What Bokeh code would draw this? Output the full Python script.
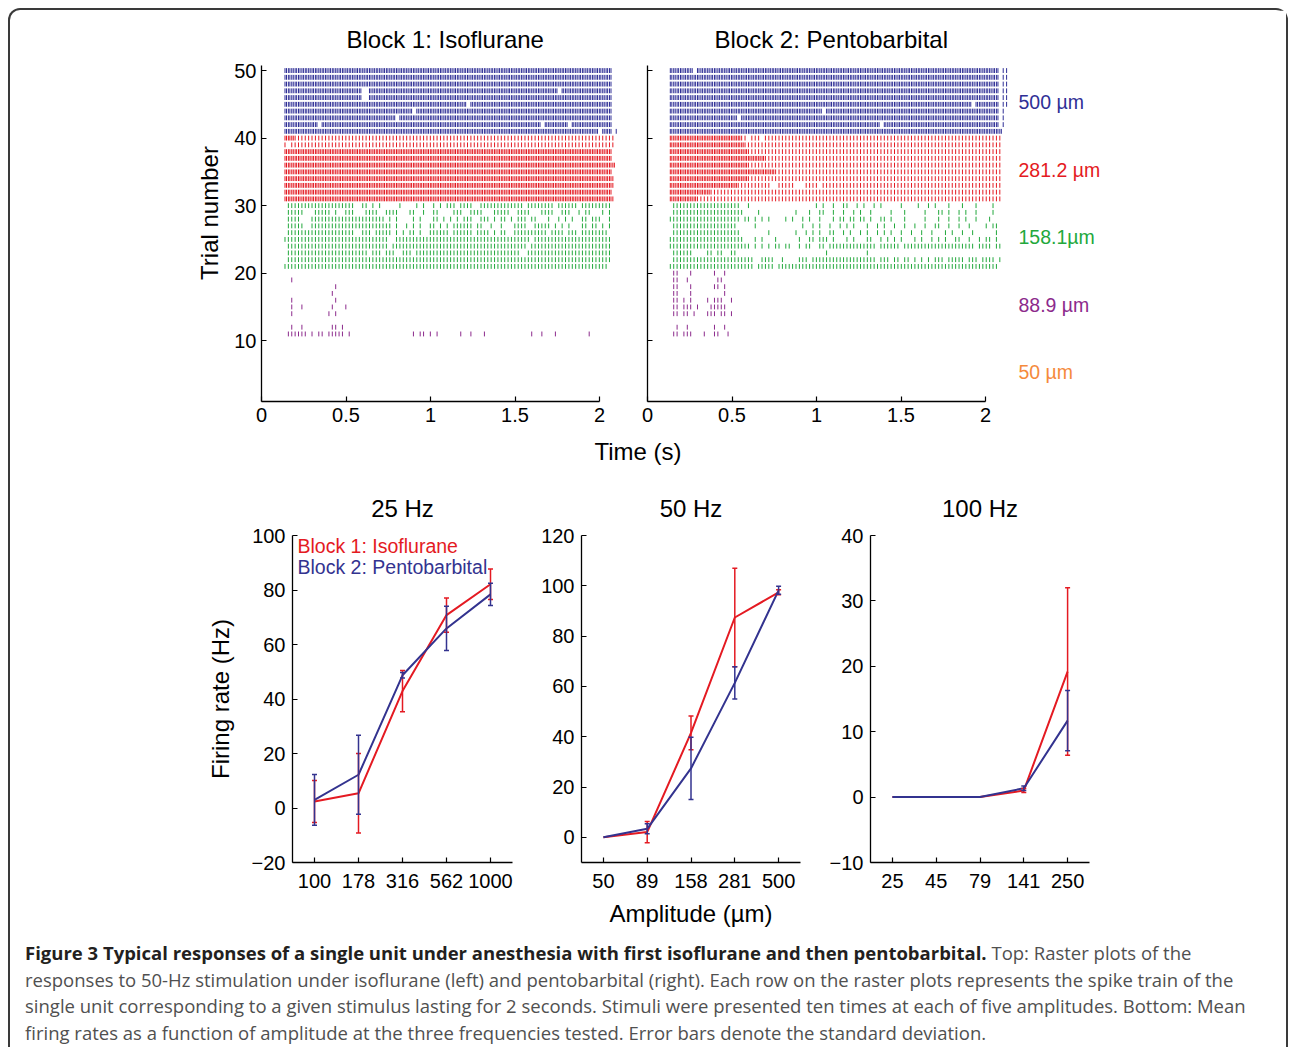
from math import pi
from bokeh.plotting import figure
from bokeh.models import (Range1d, FactorRange, FixedTicker, Label, Whisker, TeeHead,
                          ColumnDataSource, Div, CustomJSTickFormatter)
from bokeh.layouts import row, column
from bokeh.embed import file_html
from bokeh.resources import INLINE

FONT = "Liberation Sans"

# ---------------- raster data (pulse index patterns, 50-Hz pulses) ----------------
# token "a-b" = one spike on each pulse a..b ; suffix ":" = two spikes per pulse
B1_T0, B1_DT = 0.139, 0.0200
B2_T0, B2_DT = 0.135, 0.0201
PAIR_GAP = 0.009

B1_ROWS = {
    50: "0-96:", 49: "0-96:", 48: "0-96:",
    47: "0-22: 25-80: 82-96:", 46: "0-22: 25-96:", 45: "0-53: 55-96:",
    44: "0-37: 39-96:", 43: "0-32: 34-96:", 42: "0-9: 11-75: 77-83: 85-96:",
    41: "0-92: 94-96: 98",
    40: "0-2: 3-97", 39: "0 2-97", 38: "0-96:", 37: "0-96:", 36: "0-97:",
    35: "0-96:", 34: "0-96: 97", 33: "0-96: 97", 32: "0-96:", 31: "0-96: 97",
    30: "1-20 23 24 26 28 34 39 41 44 46 48-50 52-55 58-70 72-79 81-86 88-96",
    29: "1-5 9-13 15 18-20 24-27 30-33 37 38 41 44 45 50-52 55-58 62-66 69-72 76-79 82-84 87 89 90 94 96",
    28: "1-4 8-29 31 33 38 40 44 45 47 49 51 53-55 58-60 62 64 65 67 69-71 73 74 78 81 83 85 88 89 91-93 96",
    27: "1-5 8-31 33 36 38 40 43 44 46 48 50-55 57 58 61 64 68-71 74-78 80 82 84 88 89 91 92 94 96",
    26: "1-20 23-25 27-31 33 35 37 38 40 43-48 50-55 57-60 62 64 65 68-77 79-82 84-86 88-95",
    25: "0-30 33-72 74-96",
    24: "1-30 32-71 73-96",
    23: "1-24 26-28 30-32 35-37 39-69 72-96",
    22: "1-96",
    21: "0-95",
    19: "2", 18: "15", 17: "14", 16: "2 15", 15: "2 5 14 18", 14: "2 13 15",
    12: "2 5 14 15 17",
    11: "1-6 8 10 11 13-17 19 38 40 41 43 45 52 55 59 73 76 80 90",
}

B2_ROWS = {
    50: "0-6: 8-96: 98 99", 49: "0-96: 98 99", 48: "0-96: 98 99", 47: "0-96: 98 99",
    46: "0-96: 98 99", 45: "0-88: 90-96: 98 99", 44: "0-44: 46-96: 98",
    43: "0-19: 21-96: 98", 42: "0-61: 63-96: 98", 41: "0-97:",
    40: "0-20: 21 22 24-26 28-97", 39: "0-21: 22-97", 38: "0-22: 23-97",
    37: "0-27: 28-97", 36: "0-22: 23-97", 35: "0-30: 31-97", 34: "0-22: 23-97",
    33: "0-19: 20-29 32-36 40-43 45-97", 32: "0-11: 12-97", 31: "0-7: 8-97",
    30: "1-20 23 43 45 48 51 52 55 57 60 62 68 73 76 78 82 86 90 95",
    29: "1-21 26 37 41 44 45 48 51 54 56 59 65 69 75 79 80 82 85 87 90 95",
    28: "0-20 22 23 25 27 29 34 36 39 41 44 48 50 51 53 54 56 57 59 62 63 65 69 75 79 82 85 87 90 94",
    27: "1-19 25 39 42 44 47 50 52 54 58 61 63 66 69 72 75 78 79 82 85 88 93 95 96",
    26: "1-20 29 37 40 42 44 47 48 51 53 56 58 61 63 65 68 71 74 77 81 83 86 89 96",
    25: "0-21 25 27 31 38 41 42 44-46 48 52 54 58 59 62 64 66 68 72 74 77 79 81 84 85 88 91 93 94 96",
    24: "0-23 25 27 29 31 32 34 35 38 40 41 44 45 47-60 62-67 69-89 91-94 96 97",
    23: "1-6 11 12 14 15 18 19 46 58",
    22: "1-24 27-30 33 38-40 42-60 62-64 66 67 69 70 72 74 76 78-80 82-86 88-90 92-95 97",
    21: "0-24 26-30 32-96",
    20: "1 2 6 13 16", 19: "1 2 5 14 15", 18: "1 2 6 13 14 16", 17: "1 2 6 16",
    16: "1 2 4 6 11 13 14 15 18", 15: "1 2 4 5 6 8 12 13 14 15 16",
    14: "1 2 4 5 7 11 12 13 15 16 18", 12: "2 5 13 16", 11: "1 2 4 5 6 10 13 14 17",
}

AMP_LABELS = ["500 \u00b5m", "281.2 \u00b5m", "158.1\u00b5m", "88.9 \u00b5m", "50 \u00b5m"]
TRIAL_GROUPS = [(41, 50), (31, 40), (21, 30), (11, 20), (1, 10)]
GROUP_COLORS = ["#2f2f96", "#e41a22", "#22a83c", "#8c2a8c", "#f58a3c"]

# ---------------- firing rate data ----------------
AMP_25 = ["100", "178", "316", "562", "1000"]
ISO_25_MEAN = [2.4, 5.4, 42.9, 70.8, 82.1]
ISO_25_SD = [7.7, 14.6, 7.6, 6.3, 5.6]
PENTO_25_MEAN = [3.0, 12.2, 48.7, 65.9, 78.4]
PENTO_25_SD = [9.3, 14.5, 1.0, 8.1, 4.1]

AMP_50 = ["50", "89", "158", "281", "500"]
ISO_50_MEAN = [0.0, 2.1, 41.5, 87.4, 97.4]
ISO_50_SD = [0.0, 4.2, 6.7, 19.6, 1.0]
PENTO_50_MEAN = [0.0, 3.4, 27.4, 61.4, 98.2]
PENTO_50_SD = [0.0, 2.0, 12.4, 6.4, 1.6]

AMP_100 = ["25", "45", "79", "141", "250"]
ISO_100_MEAN = [0.0, 0.0, 0.0, 1.0, 19.2]
ISO_100_SD = [0.0, 0.0, 0.0, 0.3, 12.8]
PENTO_100_MEAN = [0.0, 0.0, 0.0, 1.35, 11.7]
PENTO_100_SD = [0.0, 0.0, 0.0, 0.35, 4.6]

RED = "#e41a22"
BLUE = "#33338f"

FMT = CustomJSTickFormatter(code="return tick < 0 ? '\\u2212' + (-tick) : tick.toString();")
EMPTY_FMT = CustomJSTickFormatter(code="return '';")


def parse(pattern):
    out = []
    for tok in pattern.split():
        dbl = tok.endswith(":")
        tok = tok.rstrip(":")
        if "-" in tok:
            a, b = map(int, tok.split("-"))
        else:
            a = b = int(tok)
        for k in range(a, b + 1):
            out.append((k, dbl))
    return out


def style_axes(p, tick_size="20px"):
    for ax in p.axis:
        ax.axis_line_width = 1.3
        ax.axis_line_color = "black"
        ax.major_tick_in = 5
        ax.major_tick_out = 0
        ax.major_tick_line_width = 1.2
        ax.minor_tick_in = 0
        ax.minor_tick_out = 0
        ax.major_label_text_font = FONT
        ax.major_label_text_font_size = tick_size
        ax.major_label_text_color = "black"
    p.xgrid.visible = False
    p.ygrid.visible = False
    p.outline_line_color = None
    p.background_fill_color = "white"
    p.border_fill_color = "white"


def style_title(p, standoff):
    p.title.text_font = FONT
    p.title.text_font_size = "24px"
    p.title.text_font_style = "normal"
    p.title.text_color = "black"
    p.title.standoff = standoff


PX_PER_S = 169.0


def raster_fig(rows, t0, dt, width, mb_left, title, title_offset, show_ylabels):
    frame_w = width - mb_left
    p = figure(width=width, height=428, x_range=Range1d(0, frame_w / PX_PER_S),
               y_range=Range1d(1, 50.75), output_backend="svg", toolbar_location=None,
               min_border_left=mb_left, min_border_right=0, min_border_top=55,
               min_border_bottom=37, title=title)
    for (lo, hi), color in zip(TRIAL_GROUPS, GROUP_COLORS):
        xs, y0, y1 = [], [], []
        for trial in range(lo, hi + 1):
            if trial not in rows:
                continue
            for k, dbl in parse(rows[trial]):
                times = [t0 + dt * k]
                if dbl:
                    times.append(t0 + dt * k + PAIR_GAP)
                for t in times:
                    xs.append(t)
                    y0.append(trial - 0.36)
                    y1.append(trial + 0.36)
        if xs:
            src = ColumnDataSource(dict(x=xs, y0=y0, y1=y1))
            p.segment(x0="x", y0="y0", x1="x", y1="y1", source=src,
                      line_color=color, line_width=1.0)
    p.xaxis.ticker = FixedTicker(ticks=[0, 0.5, 1, 1.5, 2])
    p.xaxis.formatter = FMT
    p.xaxis.bounds = (0, 2)
    p.xaxis.major_label_standoff = 6
    p.yaxis.ticker = FixedTicker(ticks=[10, 20, 30, 40, 50])
    p.yaxis.bounds = (1, 50.75)
    p.yaxis.major_label_standoff = 5
    p.yaxis.formatter = FMT if show_ylabels else EMPTY_FMT
    style_axes(p)
    p.title.align = "left"
    p.title.offset = title_offset
    style_title(p, 26)
    return p


# left strip holding the rotated y label of the raster plots
trial_div = Div(
    text="<div style=\"position:relative;width:215px;height:428px;\">"
         "<div style=\"position:absolute;left:200px;top:203px;white-space:nowrap;"
         "transform:translate(-50%,-50%) rotate(-90deg);font-family:'Liberation Sans';"
         "font-size:24px;line-height:28px;color:black\">Trial number</div></div>",
    width=215, height=428, margin=0)

fig_r1 = raster_fig(B1_ROWS, B1_T0, B1_DT, 415, 36, "Block 1: Isoflurane", 85, True)
fig_r2 = raster_fig(B2_ROWS, B2_T0, B2_DT, 646, 7, "Block 2: Pentobarbital", 67, False)

for (lo, hi), color, txt in zip(TRIAL_GROUPS, GROUP_COLORS, AMP_LABELS):
    fig_r2.add_layout(Label(x=2.195, y=(lo + hi) / 2 - 0.2, text=txt, text_align="left",
                            text_baseline="middle", text_font=FONT,
                            text_font_size="19.5px", text_color=color))


def line_fig(title, factors, yr, yticks, width, mbl, mbr, series, ylabel=None, xlabel=None):
    p = figure(width=width, height=467, x_range=FactorRange(factors=factors),
               y_range=Range1d(*yr), output_backend="svg", toolbar_location=None,
               min_border_left=mbl, min_border_right=mbr, min_border_top=65,
               min_border_bottom=75, title=title)
    for means, sds, color in series:
        p.line(x=factors, y=means, line_color=color, line_width=2)
        keep = [i for i, s in enumerate(sds) if s > 0]
        src = ColumnDataSource(dict(
            x=[factors[i] for i in keep],
            upper=[means[i] + sds[i] for i in keep],
            lower=[means[i] - sds[i] for i in keep]))
        w = Whisker(base="x", upper="upper", lower="lower", source=src,
                    dimension="height", line_color=color, line_width=1.5, level="glyph",
                    upper_head=TeeHead(size=5, line_color=color, line_width=1.5),
                    lower_head=TeeHead(size=5, line_color=color, line_width=1.5))
        p.add_layout(w)
    p.yaxis.ticker = FixedTicker(ticks=yticks)
    p.yaxis.formatter = FMT
    p.yaxis.major_label_standoff = 7
    p.xaxis.major_label_standoff = 11
    style_axes(p)
    p.title.align = "center"
    style_title(p, 27)
    if ylabel:
        p.yaxis.axis_label = ylabel
        p.yaxis.axis_label_standoff = 15
    if xlabel:
        p.xaxis.axis_label = xlabel
        p.xaxis.axis_label_standoff = 9
    for ax in p.axis:
        ax.axis_label_text_font = FONT
        ax.axis_label_text_font_size = "24px"
        ax.axis_label_text_font_style = "normal"
        ax.axis_label_text_color = "black"
    return p


fig_a = line_fig("25 Hz", AMP_25, (-20, 100), [-20, 0, 20, 40, 60, 80, 100], 524, 282, 22,
                 [(ISO_25_MEAN, ISO_25_SD, RED), (PENTO_25_MEAN, PENTO_25_SD, BLUE)],
                 ylabel="Firing rate (Hz)")
fig_a.add_layout(Label(x=0.114, y=96.3, text="Block 1: Isoflurane", text_align="left",
                       text_baseline="middle", text_font=FONT, text_font_size="19.5px",
                       text_color=RED))
fig_a.add_layout(Label(x=0.114, y=88.3, text="Block 2: Pentobarbital", text_align="left",
                       text_baseline="middle", text_font=FONT, text_font_size="19.5px",
                       text_color=BLUE))
fig_b = line_fig("50 Hz", AMP_50, (-10, 120), [0, 20, 40, 60, 80, 100, 120], 271, 47, 5,
                 [(ISO_50_MEAN, ISO_50_SD, RED), (PENTO_50_MEAN, PENTO_50_SD, BLUE)],
                 xlabel="Amplitude (\u00b5m)")
fig_c = line_fig("100 Hz", AMP_100, (-10, 40), [-10, 0, 10, 20, 30, 40], 481, 65, 197,
                 [(ISO_100_MEAN, ISO_100_SD, RED), (PENTO_100_MEAN, PENTO_100_SD, BLUE)])

time_div = Div(text="<div style=\"width:1256px;text-align:center;font-family:'Liberation Sans';"
                    "font-size:24px;line-height:28px;color:black\">Time (s)</div>",
               width=1276, height=32, margin=0)

caption_html = (
    "<div style=\"font-family:'Open Sans';font-size:18.5px;line-height:26.7px;color:#505050;"
    "white-space:nowrap;padding-left:15px;padding-top:3px\">"
    "<b style=\"color:#231f20\">Figure 3 Typical responses of a single unit under anesthesia "
    "with first isoflurane and then pentobarbital.</b> Top: Raster plots of the<br>"
    "responses to 50-Hz stimulation under isoflurane (left) and pentobarbital (right). Each row "
    "on the raster plots represents the spike train of the<br>"
    "single unit corresponding to a given stimulus lasting for 2 seconds. Stimuli were presented "
    "ten times at each of five amplitudes. Bottom: Mean<br>"
    "firing rates as a function of amplitude at the three frequencies tested. Error bars denote "
    "the standard deviation.</div>")
caption = Div(text=caption_html, width=1276, height=110, margin=0)

layout = column(
    row(trial_div, fig_r1, fig_r2),
    time_div,
    row(fig_a, fig_b, fig_c),
    caption,
    styles={"border": "2px solid #3a3a3a", "border-bottom": "none",
            "border-radius": "12px 12px 0 0", "background": "white",
            "margin-left": "8px", "margin-top": "8px"},
)

open("out.html", "w").write(file_html(layout, INLINE))
